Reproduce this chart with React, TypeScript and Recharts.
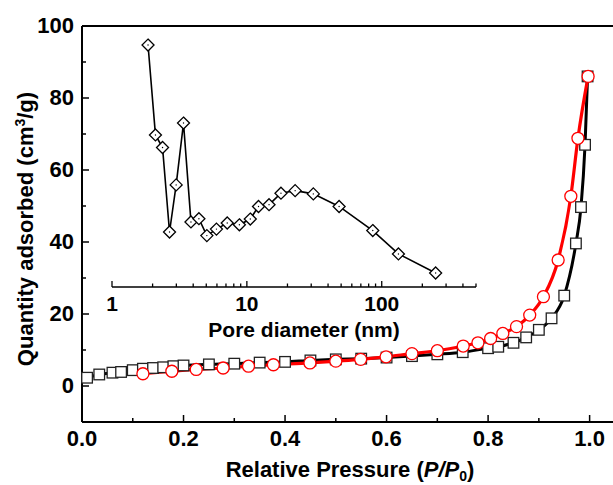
import React from 'react';
import { LineChart, Line, XAxis, YAxis, Label } from 'recharts';

const FONT = '"Liberation Sans", Arial, Helvetica, sans-serif';

// adsorption branch (black squares)
const adsP = [0.01, 0.034, 0.06, 0.077, 0.1, 0.12, 0.14, 0.16, 0.18, 0.2, 0.25, 0.3, 0.35, 0.4, 0.45, 0.5, 0.55, 0.6, 0.65, 0.7, 0.75, 0.8, 0.82, 0.85, 0.875, 0.9, 0.925, 0.95, 0.973, 0.983, 0.991, 0.996];
const adsQ = [2.3, 3.2, 3.7, 3.9, 4.4, 4.8, 5.0, 5.2, 5.5, 5.7, 6.0, 6.2, 6.5, 6.7, 7.1, 7.4, 7.6, 7.9, 8.3, 8.8, 9.4, 10.5, 10.9, 12.0, 13.5, 15.6, 18.8, 25.1, 39.6, 49.7, 67.0, 86.0];

// desorption branch (red circles)
const desP = [0.12, 0.177, 0.225, 0.278, 0.328, 0.377, 0.449, 0.5, 0.549, 0.599, 0.65, 0.7, 0.751, 0.78, 0.805, 0.829, 0.856, 0.882, 0.909, 0.938, 0.963, 0.977, 0.997];
const desQ = [3.4, 4.1, 4.6, 5.0, 5.5, 5.9, 6.4, 6.9, 7.4, 8.1, 9.0, 9.8, 11.1, 12.0, 13.2, 14.6, 16.5, 19.7, 24.8, 35.0, 52.7, 68.8, 86.0];

// inset: pore size distribution (diamonds)
const poreD = [1.85, 2.1, 2.37, 2.67, 2.99, 3.39, 3.85, 4.41, 5.05, 5.95, 7.15, 8.8, 10.6, 12.2, 14.6, 17.9, 22.8, 31.1, 48.3, 85.8, 133, 251];
const poreV = [94.7, 69.7, 66.2, 42.7, 55.8, 73.0, 45.5, 46.4, 41.7, 43.5, 45.2, 44.7, 46.3, 49.8, 50.3, 53.5, 54.2, 53.3, 49.8, 43.1, 36.6, 31.3];

const pressureTicks = [0, 0.1, 0.2, 0.3, 0.4, 0.5, 0.6, 0.7, 0.8, 0.9, 1.0];
const quantityTicks = [-10, 0, 10, 20, 30, 40, 50, 60, 70, 80, 90, 100];
const poreTicks = [1, 2, 3, 4, 5, 6, 7, 8, 9, 10, 20, 30, 40, 50, 60, 70, 80, 90, 100, 200, 300, 400, 500];

const ads = adsP.map((p, i) => ({ p, q: adsQ[i] }));
const des = desP.map((p, i) => ({ p, q: desQ[i] }));
const pores = poreD.map((d, i) => ({ d, v: poreV[i] }));

const textStyle = { fontFamily: FONT, fontWeight: 'bold' as const, fill: '#000' };

const BottomTick = (props: any) => {
  const { x, y, payload } = props;
  const v = payload.value;
  const major = Math.round(v * 10) % 2 === 0;
  return (
    <g>
      <line x1={x} x2={x} y1={y} y2={y - (major ? 7 : 4)} stroke="#000" strokeWidth={1.5} />
      {major && (
        <text x={x} y={y + 24} textAnchor="middle" fontSize={22} {...textStyle}>
          {v.toFixed(1)}
        </text>
      )}
    </g>
  );
};

const TopTick = (props: any) => {
  const { x, y, payload } = props;
  const major = Math.round(payload.value * 10) % 2 === 0;
  return <line x1={x} x2={x} y1={y} y2={y + (major ? 7 : 4)} stroke="#000" strokeWidth={1.5} />;
};

const LeftTick = (props: any) => {
  const { x, y, payload } = props;
  const v = payload.value;
  const major = v % 20 === 0;
  return (
    <g>
      <line x1={x} x2={x + (major ? 7 : 4)} y1={y} y2={y} stroke="#000" strokeWidth={1.5} />
      {major && v >= 0 && (
        <text x={x - 8} y={y + 7} textAnchor="end" fontSize={22} {...textStyle}>
          {v}
        </text>
      )}
    </g>
  );
};

const PoreTick = (props: any) => {
  const { x, y, payload } = props;
  const v = payload.value;
  const major = v === 1 || v === 10 || v === 100;
  return (
    <g>
      <line x1={x} x2={x} y1={y} y2={y - (major ? 6 : 3.5)} stroke="#000" strokeWidth={1.3} />
      {major && (
        <text x={x} y={y + 23.5} textAnchor="middle" fontSize={21} {...textStyle}>
          {v}
        </text>
      )}
    </g>
  );
};

const SquareDot = (props: any) => {
  const { cx, cy, index } = props;
  return <rect key={index} x={cx - 5.3} y={cy - 5.3} width={10.6} height={10.6} fill="#fff" stroke="#222" strokeWidth={1.3} />;
};

const CircleDot = (props: any) => {
  const { cx, cy, index } = props;
  return <circle key={index} cx={cx} cy={cy} r={6} fill="#fff" stroke="#ff0000" strokeWidth={1.3} />;
};

const DiamondDot = (props: any) => {
  const { cx, cy, index } = props;
  const r = 6;
  return (
    <g key={index}>
      <polygon points={`${cx},${cy - r} ${cx + r},${cy} ${cx},${cy + r} ${cx - r},${cy}`} fill="#fff" stroke="#000" strokeWidth={1.3} />
      <circle cx={cx} cy={cy} r={0.7} fill="#000" />
    </g>
  );
};

const YTitle = () => (
  <text transform="rotate(-90 33 229)" x={33} y={229} textAnchor="middle" fontSize={22} {...textStyle}>
    Quantity adsorbed (cm<tspan dy={-8} fontSize={14}>3</tspan>
    <tspan dy={8}>/g)</tspan>
  </text>
);

const XTitle = () => (
  <text x={350} y={477} textAnchor="middle" fontSize={22} {...textStyle}>
    Relative Pressure (<tspan fontStyle="italic">P/P</tspan>
    <tspan dy={4} fontSize={14}>0</tspan>
    <tspan dy={-4}>)</tspan>
  </text>
);

const PoreTitle = () => (
  <text x={304} y={337} textAnchor="middle" fontSize={21} {...textStyle}>
    Pore diameter (nm)
  </text>
);

export default function App() {
  return (
    <div style={{ position: 'fixed', left: 0, top: 0, width: 613, height: 485, overflow: 'hidden', background: '#fff' }}>
      <LineChart width={620} height={485} margin={{ top: 0, right: 5, bottom: 0, left: 0 }}>
        <XAxis
          dataKey="p"
          type="number"
          domain={[0, 1.05]}
          ticks={pressureTicks}
          interval={0}
          height={63}
          tickSize={0}
          tickMargin={0}
          tickLine={false}
          tick={<BottomTick />}
          axisLine={{ stroke: '#000', strokeWidth: 2 }}
        >
          <Label content={<XTitle />} />
        </XAxis>
        <XAxis
          xAxisId="top"
          orientation="top"
          type="number"
          domain={[0, 1.05]}
          ticks={pressureTicks}
          interval={0}
          height={26}
          tickSize={0}
          tickMargin={0}
          tickLine={false}
          tick={<TopTick />}
          axisLine={{ stroke: '#000', strokeWidth: 2 }}
        />
        <YAxis
          type="number"
          domain={[-10, 100]}
          ticks={quantityTicks}
          interval={0}
          width={82}
          tickSize={0}
          tickMargin={0}
          tickLine={false}
          tick={<LeftTick />}
          axisLine={{ stroke: '#000', strokeWidth: 2 }}
        >
          <Label content={<YTitle />} />
        </YAxis>
        <Line data={ads} dataKey="q" type="monotone" stroke="#000" strokeWidth={3} dot={SquareDot} isAnimationActive={false} />
        <Line data={des} dataKey="q" type="monotone" stroke="#ff0000" strokeWidth={3.2} dot={CircleDot} isAnimationActive={false} />
      </LineChart>

      <div style={{ position: 'absolute', left: 0, top: 0, pointerEvents: 'none' }}>
        <LineChart width={613} height={485} margin={{ top: 26, right: 137, bottom: 150, left: 112 }}>
          <XAxis
            dataKey="d"
            type="number"
            scale="log"
            domain={[1, 500]}
            ticks={poreTicks}
            interval={0}
            height={48}
            tickSize={0}
            tickMargin={0}
            tickLine={false}
            tick={<PoreTick />}
            axisLine={{ stroke: '#000', strokeWidth: 1.5 }}
            allowDataOverflow
          >
            <Label content={<PoreTitle />} />
          </XAxis>
          <YAxis hide type="number" domain={[27.4, 100]} />
          <Line data={pores} dataKey="v" type="linear" stroke="#000" strokeWidth={1.6} dot={DiamondDot} isAnimationActive={false} />
        </LineChart>
      </div>
    </div>
  );
}
